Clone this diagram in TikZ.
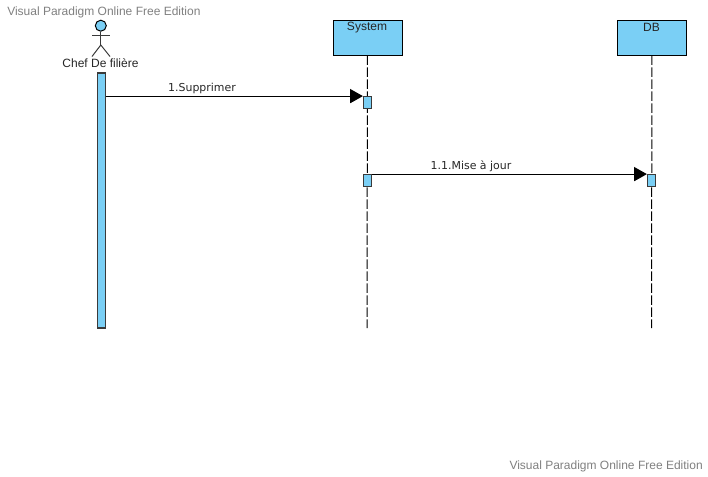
\documentclass[tikz,border=0pt]{standalone}
\usepackage{fontspec}
\setmainfont{Liberation Sans}
\newfontfamily\msgfont{DejaVu Sans}
\usetikzlibrary{arrows.meta}
\definecolor{boxblue}{HTML}{7ACFF5}
\definecolor{edgegrey}{HTML}{3A3A3A}
\definecolor{markgrey}{HTML}{808080}
\tikzset{
  lifebox/.style={draw=black,line width=0.7pt,fill=boxblue,minimum width=51.75pt,minimum height=26.25pt,inner sep=0pt},
  lifeline/.style={draw=black,line width=0.75pt,dash pattern=on 7pt off 2pt},
  actbar/.style={draw=edgegrey,line width=0.9pt,fill=boxblue,minimum width=6pt,inner sep=0pt},
  msg/.style={draw=black,line width=0.75pt,-{Triangle[length=9.5pt,width=10.5pt]}},
  msglabel/.style={font=\msgfont\fontsize{8.2}{10}\selectfont,text=black!85,inner sep=0pt},
  boxlabel/.style={font=\fontsize{9}{11}\selectfont,text=black!85,inner sep=0pt},
  watermark/.style={font=\fontsize{9}{11}\selectfont,text=markgrey,inner sep=0pt},
  limb/.style={draw=edgegrey,line width=0.75pt}
}
\begin{document}
\begin{tikzpicture}[x=0.75pt,y=-0.75pt]
    \useasboundingbox (0,0) rectangle (708,476);

    % Watermarks
    \node[watermark,anchor=west] (marktop) at (7,12) {Visual Paradigm Online Free Edition};
    \node[watermark,anchor=east] (markbottom) at (703,466) {Visual Paradigm Online Free Edition};

    % Define the actor
    \node[draw=black,line width=0.75pt,fill=boxblue,circle,minimum size=8.25pt,inner sep=0pt] (head) at (100.8,25.7) {};
    \coordinate (armL) at (92,35);
    \coordinate (armR) at (110,35);
    \coordinate (hip) at (100.8,45);
    \coordinate (footL) at (92,56.5);
    \coordinate (footR) at (110,56.5);
    \draw[limb] (head) -- (hip);
    \draw[limb] (armL) -- (armR);
    \draw[limb] (footL) -- (hip) -- (footR);
    \node[boxlabel] (chef) at (100.5,63) {Chef De filière};
    \node[actbar,minimum height=191.25pt] (chefbar) at (101.2,200.5) {};

    % Define the lifelines
    \node[lifebox] (system) at (367.5,37.5) {};
    \node[boxlabel] (systemlabel) at (367,27.5) {System};
    \node[lifebox] (db) at (652,37.5) {};
    \node[boxlabel] (dblabel) at (651.5,27.5) {DB};
    \coordinate (systemend) at (367,328);
    \coordinate (dbend) at (651.5,328);
    \draw[lifeline] (system) -- (systemend);
    \draw[lifeline] (db) -- (dbend);

    % Define the activations
    \node[actbar,minimum height=9pt] (sysact1) at (367.5,102.7) {};
    \node[actbar,minimum height=9pt] (sysact2) at (367.5,180.7) {};
    \node[actbar,minimum height=9pt] (dbact) at (651.5,180.7) {};

    % Draw arrows
    \coordinate (msg1start) at (chefbar.east |- sysact1.north);
    \draw[msg] (msg1start) -- (sysact1.north west);
    \draw[msg] (sysact2.north east) -- (dbact.north west);
    \node[msglabel] (msg1) at (202,88.7) {1.Supprimer};
    \node[msglabel] (msg2) at (471,166.7) {1.1.Mise à jour};
\end{tikzpicture}
\end{document}
